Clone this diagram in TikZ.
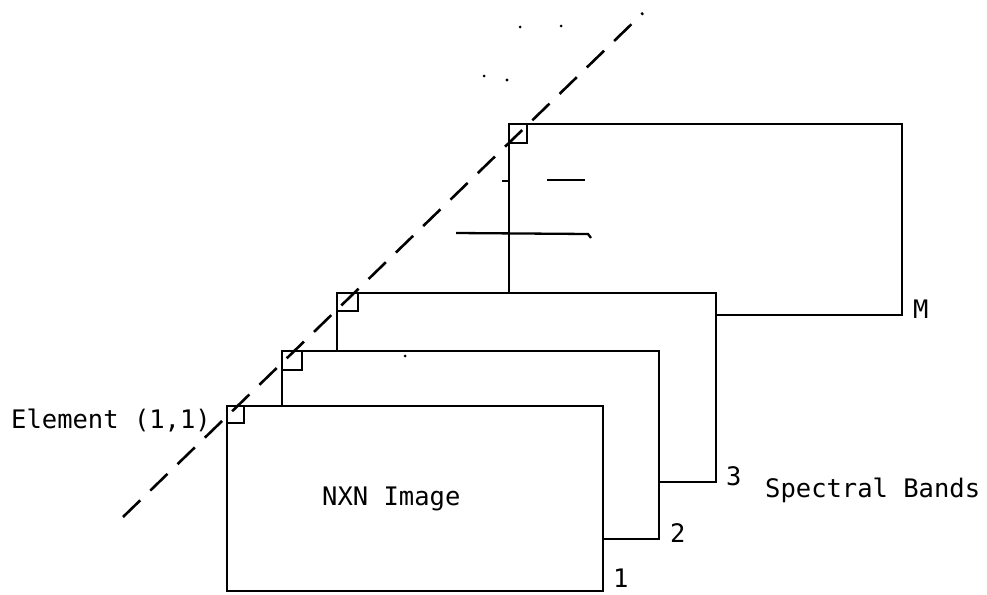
\documentclass[tikz,border=0pt]{standalone}
\usepackage{fontspec}
\newfontfamily\typew{DejaVu Sans Mono}
\begin{document}
\begin{tikzpicture}[x=1pt,y=-1pt,
  edge/.style={line width=2.7pt, line join=miter},
  strokemark/.style={line width=2.3pt},
  speck/.style={fill=black, draw=none},
  lbl/.style={font=\typew\fontsize{25.5}{28}\selectfont, inner sep=0pt, anchor=base west},
  guide/.style={line width=2.6pt, dash pattern=on 24pt off 14pt}]
\useasboundingbox (0,0) rectangle (987,594);
% band corners
\coordinate (a1) at (227,406); \coordinate (b1) at (603,591);
\coordinate (a2) at (282,351); \coordinate (b2) at (659,539);
\coordinate (a3) at (337,293); \coordinate (b3) at (716,482);
\coordinate (aM) at (509,124); \coordinate (bM) at (902,315);
% band 1 (front, full)
\draw[edge] (a1) rectangle (b1);
% band 2 (partly hidden)
\draw[edge] (a2 |- a1) -- (a2) -- (b2 |- a2) -- (b2) -- (b1 |- b2);
% band 3
\draw[edge] (a3 |- a2) -- (a3) -- (b3 |- a3) -- (b3) -- (b2 |- b3);
% band M
\draw[edge] (aM |- a3) -- (aM) -- (bM |- aM) -- (bM) -- (b3 |- bM);
% element (1,1) squares
\draw[edge] (a1) rectangle ++(17,17);
\draw[edge] (a2) rectangle ++(20,19);
\draw[edge] (a3) rectangle ++(21,18);
\draw[edge] (aM) rectangle ++(18,19);
% dashed diagonal through the (1,1) elements
\coordinate (d0) at (123,517); \coordinate (d1) at (643,13);
\draw[guide] (d0) -- (d1);
% marks inside band M
\draw[strokemark] (502,181) -- (510,181);
\draw[strokemark] (547,180) -- (585,180);
\draw[strokemark] (456,233) -- (588,234) -- (591,238);
% specks
\fill[speck] (520,27) circle (1.5);
\fill[speck] (561,26) circle (1.5);
\fill[speck] (484,76) circle (1.5);
\fill[speck] (507,80) circle (1.7);
\fill[speck] (405,356) circle (1.5);
% labels
\node[lbl] (elem) at (11,428) {Element (1,1)};
\node[lbl] (img) at (322,505) {NXN Image};
\node[lbl] (n1) at (613,587) {1};
\node[lbl] (n2) at (670,542) {2};
\node[lbl] (n3) at (726,485) {3};
\node[lbl] (nM) at (913,318) {M};
\node[lbl] (spec) at (765,497) {Spectral Bands};
\end{tikzpicture}
\end{document}
